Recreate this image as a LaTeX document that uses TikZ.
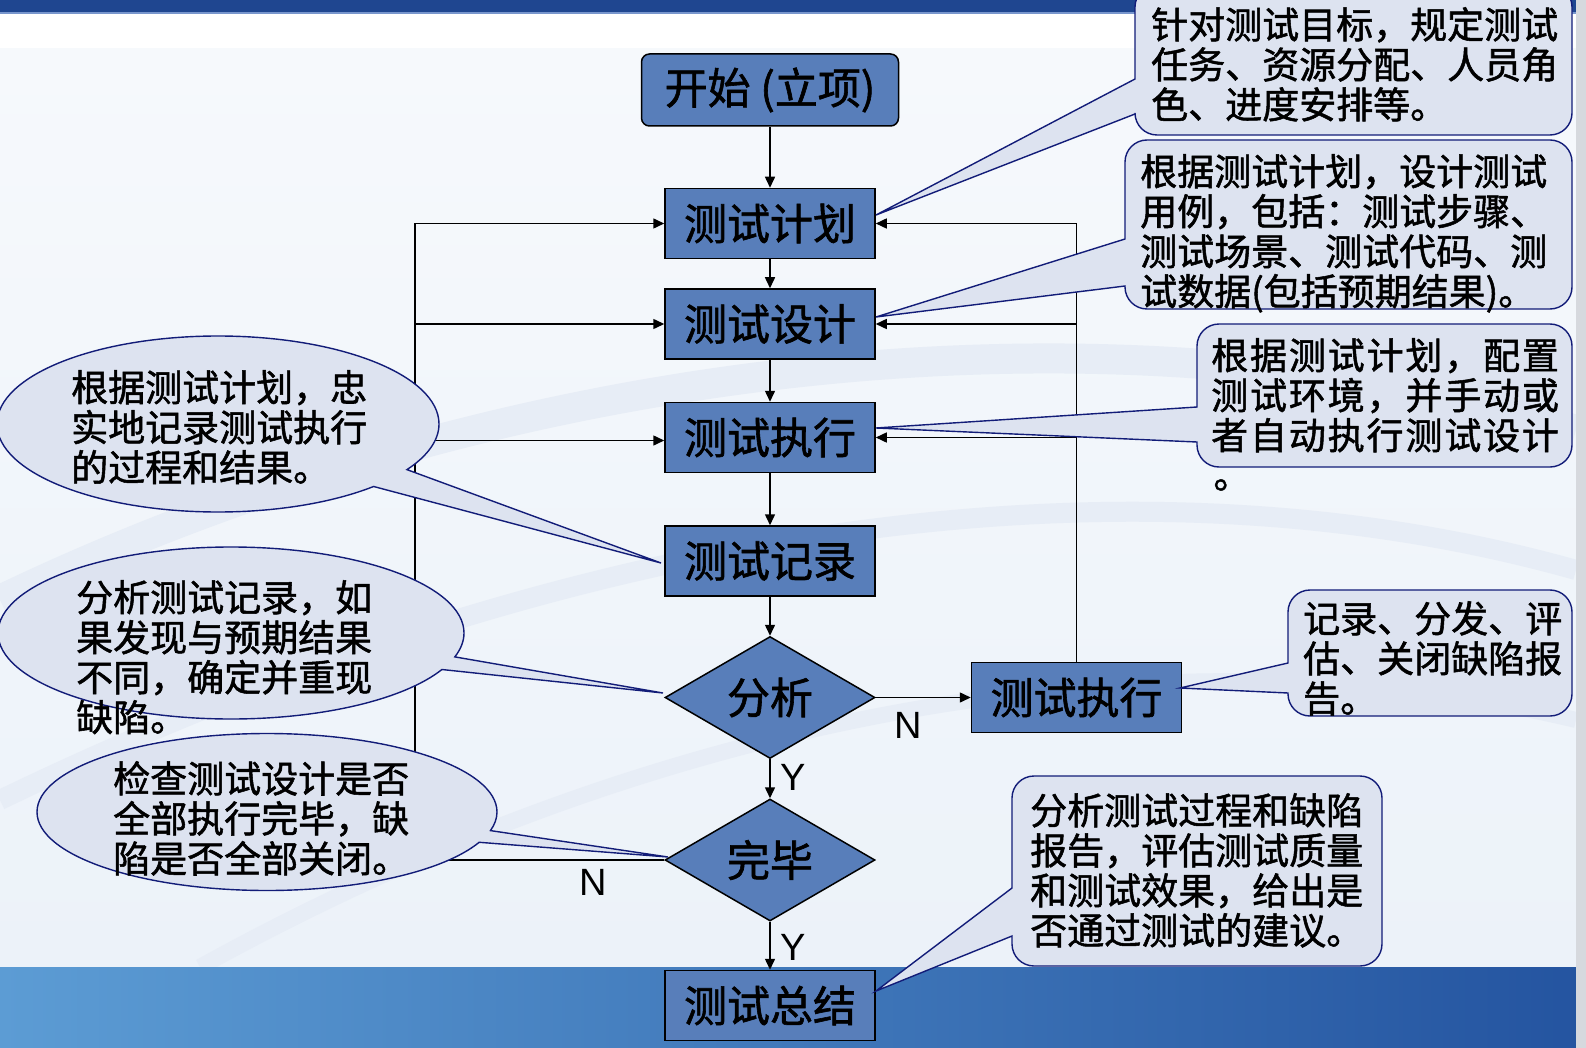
\documentclass[tikz,border=0pt]{standalone}
\usepackage{fontspec}
\newfontfamily\cjk[FakeBold=1.4]{Noto Sans CJK SC}
\newfontfamily\lat{Liberation Sans}
\usetikzlibrary{shapes,shapes.callouts,arrows.meta,positioning}
\definecolor{boxblue}{RGB}{88,126,186}
\definecolor{cofill}{RGB}{221,227,240}
\definecolor{conavy}{RGB}{18,28,120}
\definecolor{topblue}{RGB}{31,70,144}
\definecolor{topline}{RGB}{120,150,205}
\definecolor{bgtop}{RGB}{246,249,252}
\definecolor{bgbot}{RGB}{236,242,249}
\definecolor{swoosh}{RGB}{231,237,246}
\definecolor{bandl}{RGB}{92,156,212}
\definecolor{bandr}{RGB}{36,84,160}
\definecolor{edgegrey}{RGB}{214,217,222}
\tikzset{
  b/.style={rectangle,draw,line width=1.5pt,fill=boxblue,minimum width=210pt,minimum height=70pt,inner sep=0pt,font=\cjk\fontsize{43}{46}\selectfont},
  dia/.style={diamond,draw,line width=1.5pt,fill=boxblue,minimum width=210pt,minimum height=122pt,inner sep=0pt,aspect=1.7,font=\cjk\fontsize{43}{46}\selectfont},
  arr/.style={-{Triangle[length=11pt,width=10pt]},line width=1.5pt},
  co/.style={draw=conavy,fill=cofill,line width=1.4pt},
  ell/.style={co,ellipse callout,inner sep=0pt},
  ct/.style={anchor=north west,inner sep=0pt,align=left,font=\cjk\fontsize{37}{40}\selectfont},
  yn/.style={inner sep=0pt,font=\lat\fontsize{38}{40}\selectfont},
}
\begin{document}
\begin{tikzpicture}[x=1pt,y=-1pt]
  \useasboundingbox (0,0) rectangle (1586,1048);
  % background
  \shade[top color=bgtop,bottom color=bgbot] (0,48) rectangle (1586,967);
  \fill[white] (0,12) rectangle (1586,48);
  \fill[topblue] (0,0) rectangle (1586,12);
  \draw[topline,line width=1.5pt] (0,13) -- (1586,13);
  \draw[swoosh,line width=30pt] (0,600) .. controls (500,360) and (1100,290) .. (1576,430);
  \draw[swoosh,line width=20pt] (0,800) .. controls (600,510) and (1150,450) .. (1576,570);
  \draw[swoosh,line width=16pt] (200,967) .. controls (700,690) and (1200,630) .. (1576,720);
  \shade[left color=bandl,right color=bandr] (0,967) rectangle (1586,1048);
  \fill[edgegrey] (1576,0) rectangle (1586,1048);

  % flow
  \node[b,rounded corners=8pt,minimum width=257pt,minimum height=72pt] (start) at (770,90) {开始 (立项)};
  \node[b,below=61pt of start] (plan) {测试计划};
  \node[b,below=29pt of plan] (design) {测试设计};
  \node[b,below=42pt of design] (exec) {测试执行};
  \node[b,below=52pt of exec] (rec) {测试记录};
  \node[dia,below=39pt of rec] (ana) {分析};
  \node[dia,below=39pt of ana] (done) {完毕};
  \node[b,below=48pt of done] (sum) {测试总结};
  \node[b,right=95pt of ana] (fix) {测试执行};
  \coordinate (lt) at (415,0);

  \draw[arr] (start) -- (plan);
  \draw[arr] (plan) -- (design);
  \draw[arr] (design) -- (exec);
  \draw[arr] (exec) -- (rec);
  \draw[arr] (rec) -- (ana);
  \draw[arr] (ana) -- (done);
  \draw[arr] (done) -- (sum);
  \draw[arr] (ana) -- (fix);
  \draw[arr] (done.west) -| (lt |- plan.west) -- (plan.west);
  \draw[arr] (lt |- design.west) -- (design.west);
  \draw[arr] ([yshift=-3pt]lt |- exec.west) -- ([yshift=-3pt]exec.west);
  \draw[arr] (fix.north) |- (plan.east);
  \draw[arr] (fix.north |- design.east) -- (design.east);
  \draw[arr] (fix.north |- exec.east) -- (exec.east);
  \node[yn] (ya) at (793,777) {Y};
  \node[yn] (yd) at (793,947) {Y};
  \node[yn] (na) at (908,725) {N};
  \node[yn] (nd) at (593,882) {N};

  % callouts
  \draw[co] (876,215) -- (1135,114) -- (1135,113) arc[start angle=180,end angle=270,radius=22pt] -- (1550,135)
    arc[start angle=270,end angle=360,radius=22pt] -- (1572,7) arc[start angle=0,end angle=90,radius=22pt]
    -- (1157,-15) arc[start angle=90,end angle=180,radius=22pt] -- (1135,79) -- cycle;
  \draw[co] (876,317) -- (1125,286) -- (1125,287) arc[start angle=180,end angle=270,radius=22pt] -- (1550,309)
    arc[start angle=270,end angle=360,radius=22pt] -- (1572,162) arc[start angle=0,end angle=90,radius=22pt]
    -- (1147,140) arc[start angle=90,end angle=180,radius=22pt] -- (1125,239) -- cycle;
  \draw[co] (876,428) -- (1197,442) -- (1197,445) arc[start angle=180,end angle=270,radius=22pt] -- (1550,467)
    arc[start angle=270,end angle=360,radius=22pt] -- (1572,346) arc[start angle=0,end angle=90,radius=22pt]
    -- (1219,324) arc[start angle=90,end angle=180,radius=22pt] -- (1197,407) -- cycle;
  \draw[co] (1180,688) -- (1288,693) -- (1288,694) arc[start angle=180,end angle=270,radius=22pt] -- (1550,716)
    arc[start angle=270,end angle=360,radius=22pt] -- (1572,612) arc[start angle=0,end angle=90,radius=22pt]
    -- (1310,590) arc[start angle=90,end angle=180,radius=22pt] -- (1288,663) -- cycle;
  \draw[co] (876,991) -- (1012,936) -- (1012,944) arc[start angle=180,end angle=270,radius=22pt] -- (1360,966)
    arc[start angle=270,end angle=360,radius=22pt] -- (1382,798) arc[start angle=0,end angle=90,radius=22pt]
    -- (1034,776) arc[start angle=90,end angle=180,radius=22pt] -- (1012,888) -- cycle;
  \coordinate (t1) at (661,563);
  \coordinate (t2) at (663,693);
  \coordinate (t3) at (668,857);
  \node[ell,minimum width=442pt,minimum height=176pt,callout absolute pointer=(t1),callout pointer arc=14] (e1) at (218,424) {};
  \node[ell,minimum width=466pt,minimum height=172pt,callout absolute pointer=(t2),callout pointer arc=9] (e2) at (231,633) {};
  \node[ell,minimum width=460pt,minimum height=157pt,callout absolute pointer=(t3),callout pointer arc=9] (e3) at (267,812) {};

  \node[ct] (c1) at (1151,7) {针对测试目标，规定测试\\任务、资源分配、人员角\\色、进度安排等。};
  \node[ct] (c2) at (1140,154) {根据测试计划，设计测试\\用例，包括：测试步骤、\\测试场景、测试代码、测\\试数据(包括预期结果)。};
  \node[ct,font=\cjk\fontsize{37}{40}\selectfont\addfontfeature{LetterSpace=5}] (c3) at (1211,338) {根据测试计划，配置\\测试环境，并手动或\\者自动执行测试设计};
  \node[ct,anchor=center] (c3b) at (1232,485) {。};
  \node[ct] (c4) at (1303,601) {记录、分发、评\\估、关闭缺陷报\\告。};
  \node[ct] (c5) at (1030,793) {分析测试过程和缺陷\\报告，评估测试质量\\和测试效果，给出是\\否通过测试的建议。};
  \node[ct] (c6) at (71,370) {根据测试计划，忠\\实地记录测试执行\\的过程和结果。};
  \node[ct] (c7) at (76,580) {分析测试记录，如\\果发现与预期结果\\不同，确定并重现\\缺陷。};
  \node[ct] (c8) at (113,761) {检查测试设计是否\\全部执行完毕，缺\\陷是否全部关闭。};
\end{tikzpicture}
\end{document}
